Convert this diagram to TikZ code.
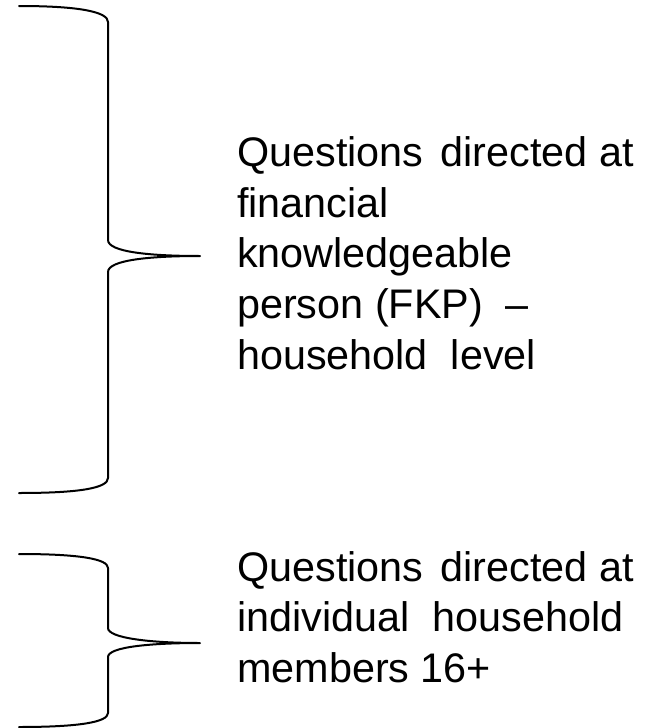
\documentclass[tikz,border=0pt]{standalone}
\usepackage{fontspec}
\setmainfont{Liberation Sans}

\begin{document}
\begin{tikzpicture}[x=0.75pt, y=-0.75pt,
    curly/.style={line width=1.5pt, line cap=round, line join=round},
    qtext/.style={anchor=west, inner sep=0pt, align=left, font=\fontsize{31}{38}\selectfont}]
    \useasboundingbox (0,0) rectangle (659,728);

    % FKP brace
    \coordinate (tipfkp) at (200,256);
    \draw[curly] (19,6) .. controls (80,6) and (108,12) .. (108,22)
        -- (108,240) .. controls (108,252) and (150,256) .. (tipfkp)
        .. controls (150,256) and (108,260) .. (108,272)
        -- (108,478) .. controls (108,488) and (80,493) .. (19,493);

    % members brace
    \coordinate (tipmem) at (200,643);
    \draw[curly] (19,554) .. controls (80,554) and (108,559) .. (108,568)
        -- (108,628) .. controls (108,638) and (150,643) .. (tipmem)
        .. controls (150,643) and (108,647) .. (108,657)
        -- (108,713) .. controls (108,722) and (80,727) .. (19,727);

    \node[qtext] (fkp) at (237,253) {Questions\hspace{13pt}directed at\\ financial\\ knowledgeable\\ person (FKP) ~–\\ household~ level};
    \node[qtext] (members) at (237,617) {Questions\hspace{13pt}directed at\\ individual~ household\\ members 16+};
\end{tikzpicture}
\end{document}
